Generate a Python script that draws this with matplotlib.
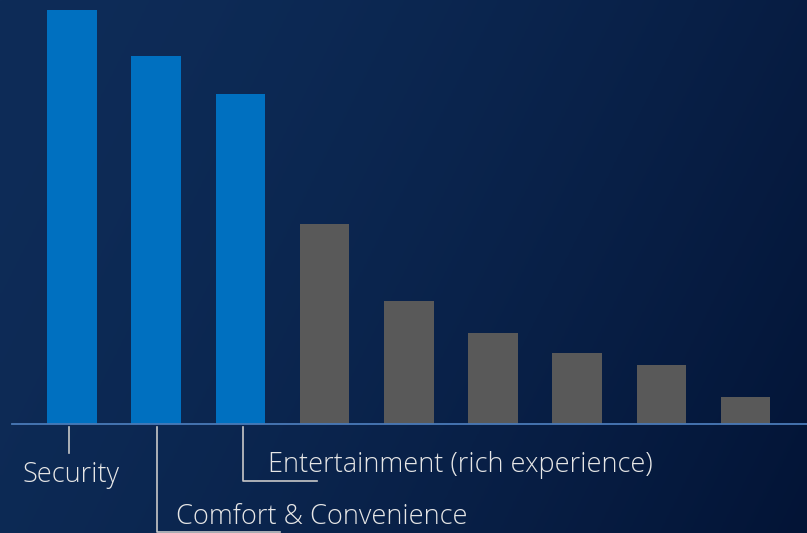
import numpy as np
import matplotlib
matplotlib.use('Agg')
from matplotlib import pyplot as plt

# bar heights (relative units)
categories = ['Security', 'Comfort & Convenience', 'Entertainment (rich experience)',
              'd', 'e', 'f', 'g', 'h', 'i']
values = [414, 368, 330, 200, 123, 91, 71, 59, 27]
colors = ['#0070c0'] * 3 + ['#595959'] * 6

fig = plt.figure(figsize=(8.07, 5.33), dpi=100)
ax = fig.add_axes([0, 0, 1, 1])

# gradient background
xlo, xhi = -0.855, 8.73
ylo, yhi = -109, 424
gx, gy = np.meshgrid(np.linspace(0, 1, 200), np.linspace(0, 1, 200))
t = (0.75 * gx + 0.25 * gy) ** 1.6  # 0 top-left, 1 bottom-right
top = np.array([14, 44, 88]) / 255
bot = np.array([3, 20, 54]) / 255
bg = top[None, None, :] * (1 - t[..., None]) + bot[None, None, :] * t[..., None]
ax.imshow(bg, extent=[xlo, xhi, ylo, yhi], origin='upper', aspect='auto', zorder=0)

x = np.arange(len(values))
ax.bar(x, values, width=0.588, color=colors, zorder=2)

# baseline
ax.plot([-0.71, xhi], [0, 0], color='#4a7ab8', lw=1.3, zorder=3)

ax.set_xlim(xlo, xhi)
ax.set_ylim(ylo, yhi)
ax.axis('off')

lc = '#c8c8c8'
tc = '#e6e6e6'
fs = 19.5
fam = 'Open Sans'
# leader lines and labels
ax.plot([-0.04, -0.04], [-3, -29], color=lc, lw=1.2, zorder=3)
ax.text(-0.006, -51, categories[0], color=tc, fontsize=fs, family=fam,
        fontweight='light', ha='center', va='center')

ax.plot([1.005, 1.005, 2.47], [-3, -108, -108], color=lc, lw=1.2, zorder=3)
ax.text(1.235, -93, categories[1], color=tc, fontsize=fs, family=fam,
        fontweight='light', ha='left', va='center')

ax.plot([2.03, 2.03, 2.91], [-3, -57, -57], color=lc, lw=1.2, zorder=3)
ax.text(2.33, -41, categories[2], color=tc, fontsize=fs, family=fam,
        fontweight='light', ha='left', va='center')

fig.savefig('out.png', dpi=100)
